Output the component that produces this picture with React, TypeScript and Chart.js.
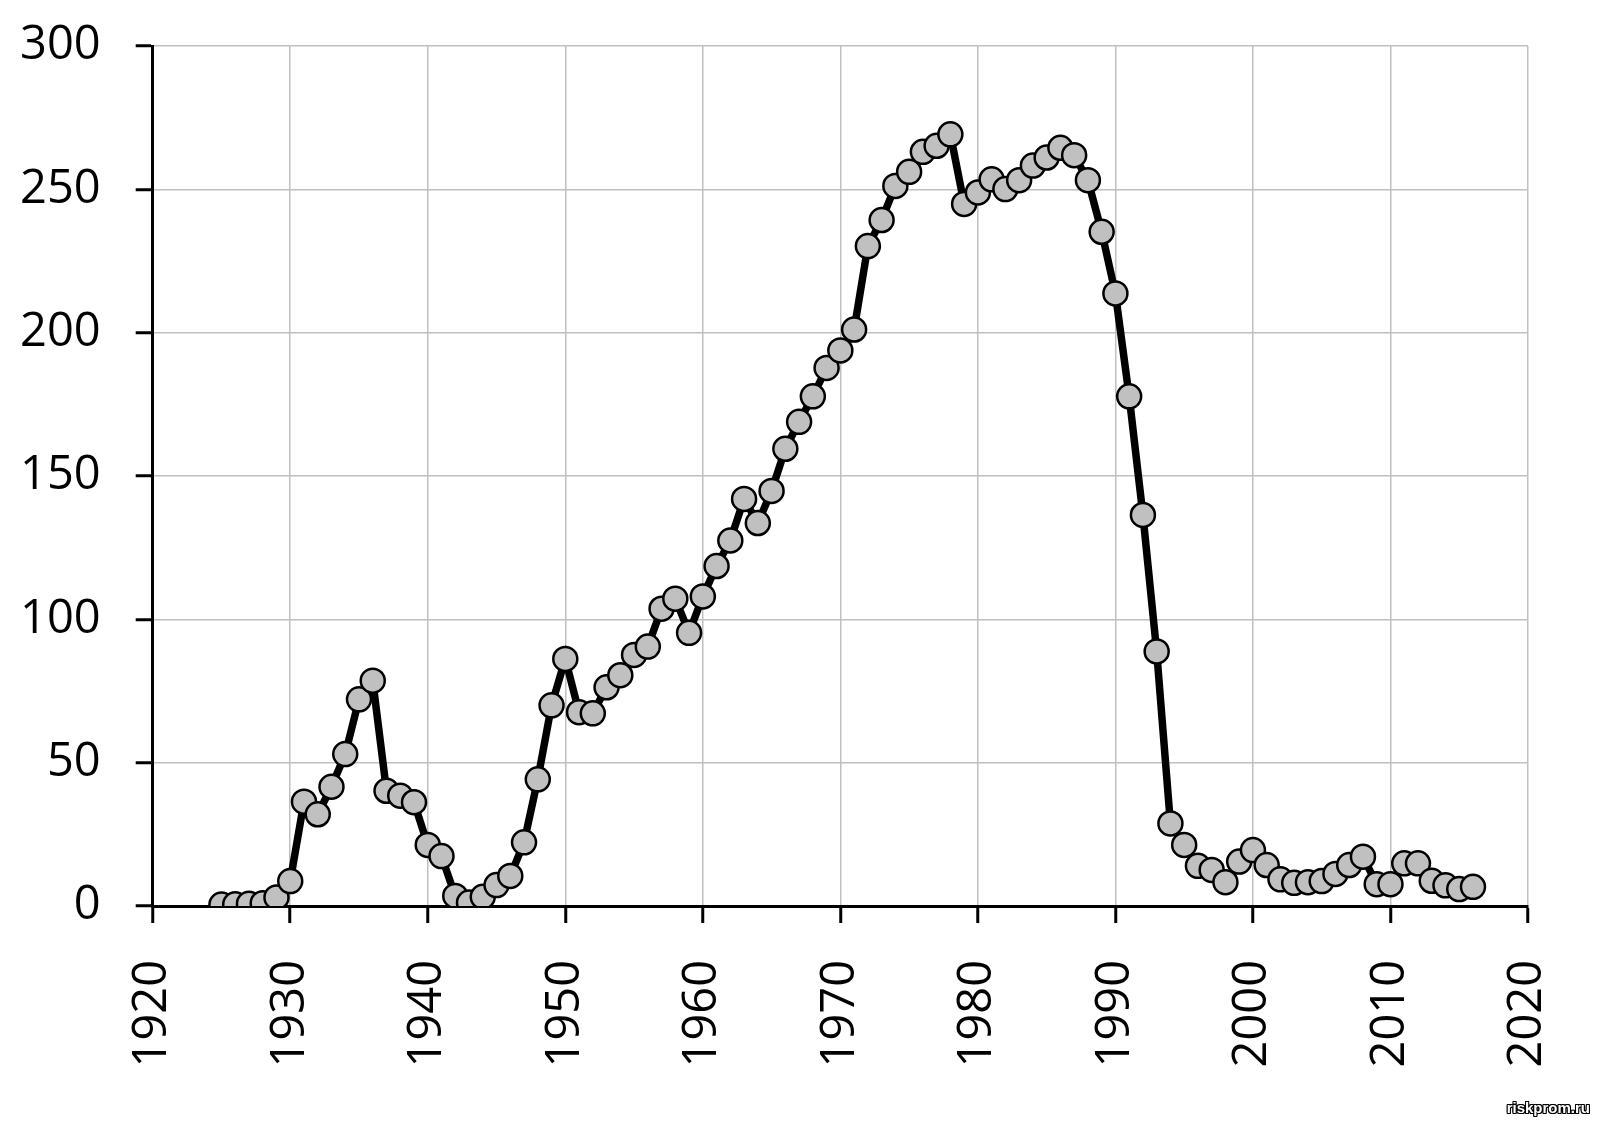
import React, { useEffect, useRef } from "react";
import { Chart, registerables } from "chart.js";

Chart.register(...registerables);

const years: number[] = [
  1925, 1926, 1927, 1928, 1929, 1930, 1931, 1932, 1933, 1934, 1935, 1936, 1937, 1938, 1939,
  1940, 1941, 1942, 1943, 1944, 1945, 1946, 1947, 1948, 1949, 1950, 1951, 1952, 1953, 1954,
  1955, 1956, 1957, 1958, 1959, 1960, 1961, 1962, 1963, 1964, 1965, 1966, 1967, 1968, 1969,
  1970, 1971, 1972, 1973, 1974, 1975, 1976, 1977, 1978, 1979, 1980, 1981, 1982, 1983, 1984,
  1985, 1986, 1987, 1988, 1989, 1990, 1991, 1992, 1993, 1994, 1995, 1996, 1997, 1998, 1999,
  2000, 2001, 2002, 2003, 2004, 2005, 2006, 2007, 2008, 2009, 2010, 2011, 2012, 2013, 2014,
  2015, 2016,
];

const values: number[] = [
  0.5, 0.6, 0.8, 1, 3, 8.7, 36.4, 32, 41.6, 53, 72.1, 78.6, 40.2, 38.5, 36.2,
  21.3, 17.4, 3.5, 1.2, 3.2, 7.3, 10.5, 22.2, 44.2, 70, 86.2, 67.6, 67.2, 76.3, 80.5,
  87.6, 90.5, 103.7, 107.2, 95.3, 108, 118.6, 127.5, 142, 133.6, 144.8, 159.5, 168.9, 177.8, 187.7,
  193.8, 201.1, 230.2, 239.3, 251.2, 256.1, 263.1, 265.2, 269.2, 244.9, 248.9, 253.5, 250.1, 253.2, 258.3,
  261.1, 264.5, 261.9, 253.2, 235.2, 213.7, 177.8, 136.4, 88.8, 28.8, 21.3, 14, 12.6, 8.3, 15.5,
  19.5, 14.3, 9.3, 8.1, 8.3, 8.7, 11.2, 14.3, 17.2, 7.6, 7.6, 14.9, 14.9, 8.8, 7.2,
  5.9, 6.7,
];

const xMin = 1920;
const xMax = 2020;
const xStep = 10;
const yMin = 0;
const yMax = 300;
const yStep = 50;
const watermark = "riskprom.ru";

function zeroPadding(scale: any) {
  scale.paddingTop = 0;
  scale.paddingBottom = 0;
  scale.paddingLeft = 0;
  scale.paddingRight = 0;
}

export default function App() {
  const canvasRef = useRef<HTMLCanvasElement | null>(null);

  useEffect(() => {
    const canvas = canvasRef.current;
    if (!canvas) return;
    const font = { family: "'Open Sans', 'Noto Sans', sans-serif", size: 47 };
    const chart = new Chart(canvas, {
      type: "line",
      data: {
        datasets: [
          {
            data: years.map((y, i) => ({ x: y, y: values[i] })),
            borderColor: "#000000",
            borderWidth: 7.5,
            pointRadius: 12,
            pointHoverRadius: 12,
            pointBackgroundColor: "#c0c0c0",
            pointBorderColor: "#000000",
            pointBorderWidth: 2.5,
            tension: 0,
            fill: false,
          },
        ],
      },
      options: {
        animation: false,
        responsive: false,
        maintainAspectRatio: false,
        devicePixelRatio: 1,
        layout: { padding: { left: 0, top: 46, right: 72, bottom: 0 } },
        plugins: {
          legend: { display: false },
          tooltip: { enabled: false },
        },
        scales: {
          x: {
            type: "linear",
            min: xMin,
            max: xMax,
            afterFit: (scale: any) => {
              scale.height = 221;
              zeroPadding(scale);
            },
            ticks: {
              stepSize: xStep,
              minRotation: 90,
              maxRotation: 90,
              padding: 37,
              color: "#000000",
              font,
              callback: (v: any) => String(v),
            },
            grid: {
              color: "#c0c0c0",
              lineWidth: 1.5,
              drawTicks: true,
              tickLength: 17,
              tickColor: "#000000",
              tickWidth: 3,
            },
            border: { color: "#000000", width: 3 },
          },
          y: {
            type: "linear",
            min: yMin,
            max: yMax,
            afterFit: (scale: any) => {
              scale.width = 152.7;
              zeroPadding(scale);
            },
            ticks: {
              stepSize: yStep,
              padding: 35,
              color: "#000000",
              font,
            },
            grid: {
              color: "#c0c0c0",
              lineWidth: 1.5,
              drawTicks: true,
              tickLength: 17,
              tickColor: "#000000",
              tickWidth: 3,
            },
            border: { color: "#000000", width: 3 },
          },
        },
      },
    });
    return () => chart.destroy();
  }, []);

  return (
    <div
      style={{
        position: "fixed",
        left: 0,
        top: 0,
        width: 1600,
        height: 1127,
        background: "#ffffff",
      }}
    >
      <canvas ref={canvasRef} width={1600} height={1127} style={{ width: 1600, height: 1127 }} />
      <div
        style={{
          position: "absolute",
          right: 10,
          top: 1099,
          lineHeight: "18px",
          fontFamily: "'Liberation Sans', Arial, sans-serif",
          fontWeight: "bold",
          fontSize: 15,
          color: "#ffffff",
          textShadow:
            "1px 0 0 #000, -1px 0 0 #000, 0 1px 0 #000, 0 -1px 0 #000, 1px 1px 0 #000, -1px -1px 0 #000, 1px -1px 0 #000, -1px 1px 0 #000",
        }}
      >
        {watermark}
      </div>
    </div>
  );
}
